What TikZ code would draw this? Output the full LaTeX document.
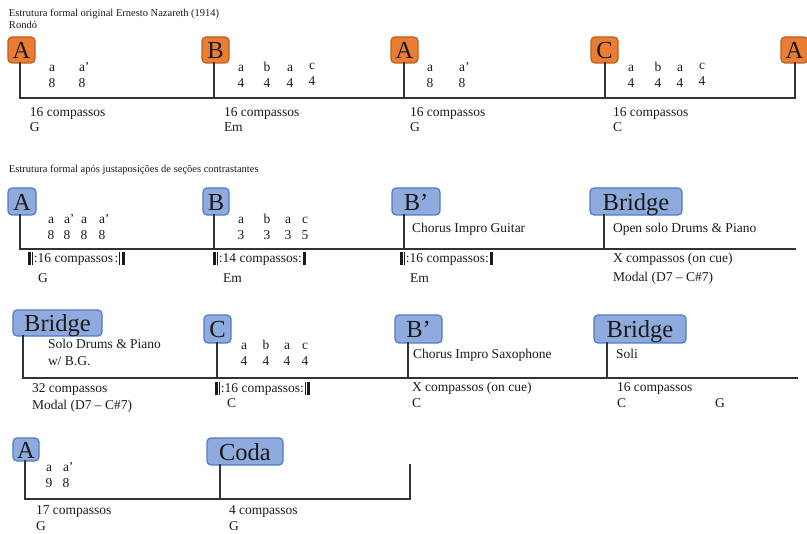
\documentclass[tikz,border=0pt]{standalone}
\usepackage{fontspec}
\setmainfont{Liberation Serif}
\definecolor{orfill}{HTML}{EB7D33}
\definecolor{orline}{HTML}{B8601F}
\definecolor{blfill}{HTML}{8FAADC}
\definecolor{blline}{HTML}{4F7BC9}
\definecolor{linec}{HTML}{333333}
\definecolor{txt}{HTML}{1A1A1A}
\newcommand\myrepL{\rule[-2.5pt]{3pt}{13.5pt}\kern1.3pt\rule[-2.5pt]{1pt}{13.5pt}\kern0.6pt:}
\newcommand\myrepR{:\kern1.2pt\rule[-2.5pt]{1pt}{13.5pt}\kern1.3pt\rule[-2.5pt]{3pt}{13.5pt}}
\newcommand\myrepE{:\kern1.2pt\rule[-2.5pt]{3.4pt}{13.5pt}}
\newcommand\secline[3]{\path ([xshift=#2]#1.south west) coordinate (#1v);\draw[conn] (#1v) -- (#1v |- #3);}
\begin{document}
\begin{tikzpicture}[x=1pt,y=-1pt,
  every node/.style={inner sep=0pt, outer sep=0pt, text=txt},
  lbl/.style={anchor=base west, font=\fontsize{13.5}{16}\selectfont},
  col/.style={anchor=base, font=\fontsize{13.5}{16}\selectfont},
  ttl/.style={anchor=base west, font=\fontsize{10.5}{12}\selectfont},
  secbox/.style={draw, rounded corners=4pt, line width=1.2pt, anchor=north west,
    font=\fontsize{24.5}{26}\selectfont, text height=18pt, text depth=0pt},
  orbox/.style={secbox, fill=orfill, draw=orline, minimum width=27pt, minimum height=26pt},
  blbox/.style={secbox, fill=blfill, draw=blline, minimum height=27pt},
  conn/.style={draw=linec, line width=1.4pt, line cap=rect}
]
\useasboundingbox (0,0) rectangle (807,534);
\coordinate (r1y) at (0,98);
\coordinate (r2y) at (0,249);
\coordinate (r3y) at (0,378);
\coordinate (r4y) at (0,499);
\coordinate (r2end) at (795,249);
\coordinate (r3end) at (797,378);
\coordinate (r4top) at (410,465);
\coordinate (r4end) at (410,499);

% ---------- Row 1 ----------
\node[ttl] (t1) at (9,17) {Estrutura formal original Ernesto Nazareth (1914)};
\node[ttl] (t1b) at (9,29) {Rondó};
\node[orbox] (oA1) at (8,37) {A};
\node[orbox] (oB1) at (202,37) {B};
\node[orbox] (oA2) at (391,37) {A};
\node[orbox] (oC1) at (591,37) {C};
\node[orbox] (oA3) at (781,37) {A};
\secline{oA1}{12pt}{r1y}
\secline{oB1}{12pt}{r1y}
\secline{oA2}{13pt}{r1y}
\secline{oC1}{14pt}{r1y}
\secline{oA3}{14pt}{r1y}
\draw[conn] (oA1v |- r1y) -- (oA3v |- r1y);

\foreach \x/\t/\n [count=\i] in {52/a/8, 82/a\rlap{'}/8}{
  \node[col] (r1a-\i) at (\x,72) {\t}; \node[col] (r1an-\i) at (\x,88) {\n};}
\foreach \x/\t/\n [count=\i] in {241/a/4, 267/b/4, 290/a/4}{
  \node[col] (r1b-\i) at (\x,72) {\t}; \node[col] (r1bn-\i) at (\x,88) {\n};}
\node[col] (r1b-4) at (312,70) {c}; \node[col] (r1bn-4) at (312,86) {4};
\foreach \x/\t/\n [count=\i] in {430/a/8, 462/a\rlap{'}/8}{
  \node[col] (r1c-\i) at (\x,72) {\t}; \node[col] (r1cn-\i) at (\x,88) {\n};}
\foreach \x/\t/\n [count=\i] in {631/a/4, 658/b/4, 680/a/4}{
  \node[col] (r1d-\i) at (\x,72) {\t}; \node[col] (r1dn-\i) at (\x,88) {\n};}
\node[col] (r1d-4) at (702,70) {c}; \node[col] (r1dn-4) at (702,86) {4};

\node[lbl] (l11) at (30,117) {16 compassos};
\node[lbl] (l12) at (30,132) {G};
\node[lbl] (l13) at (224,117) {16 compassos};
\node[lbl] (l14) at (224,132) {Em};
\node[lbl] (l15) at (410,117) {16 compassos};
\node[lbl] (l16) at (410,132) {G};
\node[lbl] (l17) at (613,117) {16 compassos};
\node[lbl] (l18) at (613,132) {C};

% ---------- Row 2 ----------
\node[ttl] (t2) at (9,173) {Estrutura formal após justaposições de seções contrastantes};
\node[blbox, minimum width=28pt] (bA1) at (8,188) {A};
\node[blbox, minimum width=26pt] (bB1) at (203,188) {B};
\node[blbox, minimum width=48pt] (bBp1) at (392,188) {B’};
\node[blbox, minimum width=92pt] (bBr1) at (590,188) {Bridge};
\secline{bA1}{12pt}{r2y}
\secline{bB1}{11pt}{r2y}
\secline{bBp1}{12pt}{r2y}
\secline{bBr1}{14pt}{r2y}
\draw[conn] (bA1v |- r2y) -- (r2end);

\foreach \x/\t/\n [count=\i] in {51/a/8, 67/a\rlap{'}/8, 84/a/8, 102/a\rlap{'}/8}{
  \node[col] (r2a-\i) at (\x,224) {\t}; \node[col] (r2an-\i) at (\x,240) {\n};}
\foreach \x/\t/\n [count=\i] in {241/a/3, 267/b/3, 288/a/3, 305/c/5}{
  \node[col] (r2b-\i) at (\x,224) {\t}; \node[col] (r2bn-\i) at (\x,240) {\n};}
\node[lbl] (l21) at (412,233) {Chorus Impro Guitar};
\node[lbl] (l22) at (613,233) {Open solo Drums \& Piano};

\node[lbl] (l23) at (28,263) {\myrepL16 compassos\kern1.5pt\myrepR};
\node[lbl] (l24) at (38,283) {G};
\node[lbl] (l25) at (213,263) {\myrepL14 compassos\myrepE};
\node[lbl] (l26) at (223,283) {Em};
\node[lbl] (l27) at (400,263) {\myrepL16 compassos\myrepE};
\node[lbl] (l28) at (410,283) {Em};
\node[lbl] (l29) at (613,263) {X compassos (on cue)};
\node[lbl] (l2a) at (613,282) {Modal (D7 – C\#7)};

% ---------- Row 3 ----------
\node[blbox, minimum width=89pt, minimum height=26pt] (bBr2) at (13,310) {Bridge};
\node[blbox, minimum width=27pt, minimum height=28pt] (bC1) at (204,315) {C};
\node[blbox, minimum width=47pt, minimum height=28pt] (bBp2) at (395,315) {B’};
\node[blbox, minimum width=92pt, minimum height=28pt] (bBr3) at (594,315) {Bridge};
\secline{bBr2}{10pt}{r3y}
\secline{bC1}{13pt}{r3y}
\secline{bBp2}{13pt}{r3y}
\secline{bBr3}{13pt}{r3y}
\draw[conn] (bBr2v |- r3y) -- (r3end);

\node[lbl] (l31) at (48,349) {Solo Drums \& Piano};
\node[lbl] (l32) at (48,366) {w/ B.G.};
\foreach \x/\t/\n [count=\i] in {244/a/4, 266/b/4, 287/a/4, 305/c/4}{
  \node[col] (r3c-\i) at (\x,350) {\t}; \node[col] (r3cn-\i) at (\x,366) {\n};}
\node[lbl] (l33) at (413,359) {Chorus Impro Saxophone};
\node[lbl] (l34) at (616,359) {Soli};

\node[lbl] (l35) at (32,393) {32 compassos};
\node[lbl] (l36) at (32,410) {Modal (D7 – C\#7)};
\node[lbl] (l37) at (215,393) {\myrepL16 compassos\myrepR};
\node[lbl] (l38) at (227,408) {C};
\node[lbl] (l39) at (412,392) {X compassos (on cue)};
\node[lbl] (l3a) at (412,408) {C};
\node[lbl] (l3b) at (617,392) {16 compassos};
\node[lbl] (l3c) at (617,408) {C};
\node[lbl] (l3d) at (715,408) {G};

% ---------- Row 4 ----------
\node[blbox, minimum width=26pt, minimum height=23pt] (bA2) at (13,438) {A};
\node[blbox, minimum width=76pt, minimum height=27pt] (bCoda) at (207,438) {Coda};
\secline{bA2}{12pt}{r4y}
\secline{bCoda}{13pt}{r4y}
\draw[conn] (bA2v |- r4y) -- (r4end) -- (r4top);
\foreach \x/\t/\n [count=\i] in {49/a/9, 66/a\rlap{'}/8}{
  \node[col] (r4a-\i) at (\x,472) {\t}; \node[col] (r4an-\i) at (\x,488) {\n};}
\node[lbl] (l41) at (36,515) {17 compassos};
\node[lbl] (l42) at (36,531) {G};
\node[lbl] (l43) at (229,515) {4 compassos};
\node[lbl] (l44) at (229,531) {G};
\end{tikzpicture}
\end{document}
